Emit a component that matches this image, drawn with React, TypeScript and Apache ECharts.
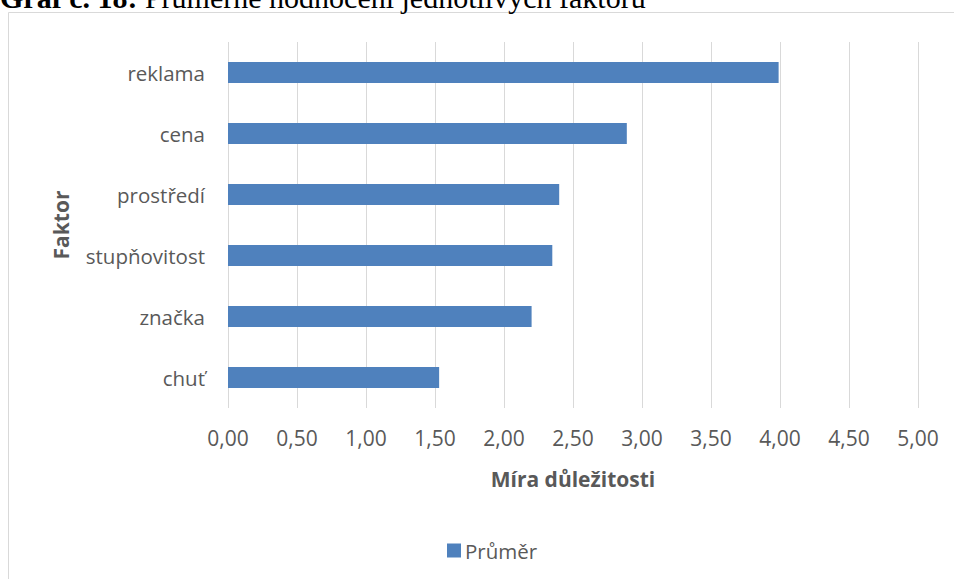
import React, { useEffect, useRef } from "react";
import * as echarts from "echarts";

const categories = ["reklama", "cena", "prostředí", "stupňovitost", "značka", "chuť"];
const values = [3.99, 2.89, 2.4, 2.35, 2.2, 1.53];
const seriesName = "Průměr";
const xAxisTitle = "Míra důležitosti";
const yAxisTitle = "Faktor";
const captionBold = "Graf č. 18:";
const captionText = " Průměrné hodnocení jednotlivých faktorů";

const FONT = "'Open Sans', sans-serif";
const SERIF = "'Liberation Serif', 'Times New Roman', serif";
const TXT = "#595959";

export default function App() {
  const ref = useRef<HTMLDivElement>(null);
  useEffect(() => {
    if (!ref.current) return;
    const chart = echarts.init(ref.current, null, { renderer: "svg" });
    chart.setOption({
      animation: false,
      backgroundColor: "#ffffff",
      textStyle: { fontFamily: FONT },
      grid: { left: 228, right: 36, top: 42, bottom: 171, containLabel: false },
      xAxis: {
        type: "value",
        min: 0,
        max: 5,
        interval: 0.5,
        axisLine: { show: false },
        axisTick: { show: false },
        splitLine: { show: true, lineStyle: { color: "#d9d9d9", width: 1 } },
        axisLabel: {
          color: TXT,
          fontSize: 21,
          fontFamily: FONT,
          margin: 19,
          formatter: (v: number) => v.toFixed(2).replace(".", ","),
        },
        name: xAxisTitle,
        nameLocation: "middle",
        nameGap: 60,
        nameTextStyle: { color: TXT, fontSize: 21, fontWeight: "bold", fontFamily: FONT },
      },
      yAxis: {
        type: "category",
        data: categories,
        inverse: true,
        axisLine: { show: false },
        axisTick: { show: false },
        splitLine: { show: false },
        axisLabel: { color: TXT, fontSize: 20.5, fontFamily: FONT, margin: 23 },
        name: yAxisTitle,
        nameLocation: "middle",
        nameGap: 157,
        nameRotate: 90,
        nameTextStyle: { color: TXT, fontSize: 21, fontWeight: "bold", fontFamily: FONT },
      },
      legend: {
        data: [seriesName],
        left: 447,
        top: 540,
        padding: 0,
        itemWidth: 14,
        itemHeight: 14,
        itemGap: 10,
        itemStyle: { borderWidth: 0 },
        textStyle: { color: TXT, fontSize: 20.5, fontFamily: FONT, padding: [0, 0, 0, -1] },
        icon: "rect",
      },
      series: [
        {
          name: seriesName,
          type: "bar",
          data: values,
          barWidth: 21,
          itemStyle: { color: "#4f81bd" },
        },
      ],
      graphic: [
        {
          type: "rect",
          shape: { x: 8.5, y: 12.5, width: 1000, height: 1000 },
          style: { fill: "none", stroke: "#d9d9d9", lineWidth: 1 },
          z: -10,
          silent: true,
        },
        {
          type: "text",
          x: 0,
          y: -3,
          style: {
            text: "{b|" + captionBold + "}{r|" + captionText + "}",
            verticalAlign: "middle",
            rich: {
              b: { fontFamily: SERIF, fontSize: 30, fontWeight: "bold", fill: "#000" },
              r: { fontFamily: SERIF, fontSize: 30, fill: "#000" },
            },
          },
          silent: true,
        },
      ],
    });
    return () => chart.dispose();
  }, []);
  return (
    <div
      ref={ref}
      style={{ position: "fixed", left: 0, top: 0, width: 954, height: 579 }}
    />
  );
}
